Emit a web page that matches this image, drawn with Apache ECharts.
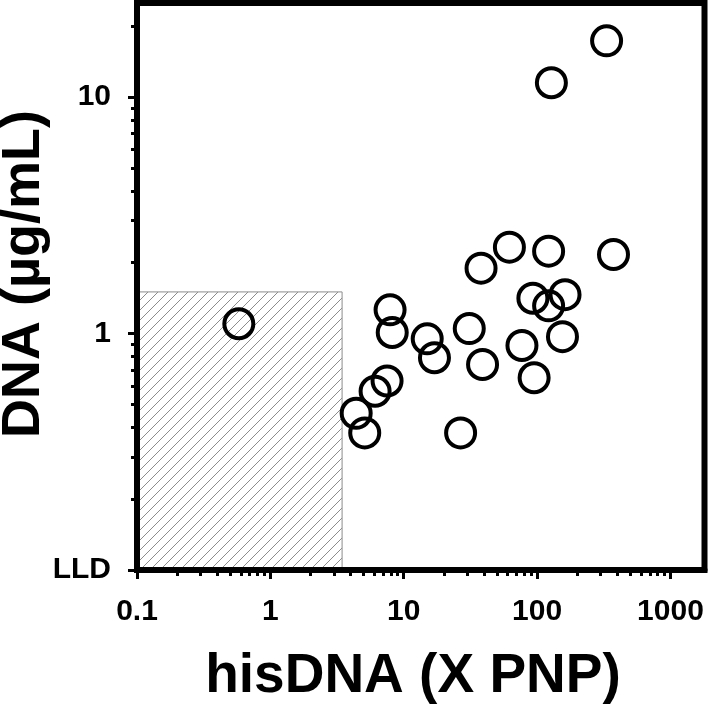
<!DOCTYPE html>
<html>
<head>
<meta charset="utf-8">
<script src="https://cdn.jsdelivr.net/npm/echarts@6/dist/echarts.min.js"></script>
<style>
  html, body { margin: 0; padding: 0; background: #fff; }
  #chart { width: 709px; height: 710px; }
</style>
</head>
<body>
<div id="chart"></div>
<script>
// values
var hisDNA = [0.58, 332, 128, 62, 122, 374, 38, 93, 162, 122, 7.9, 8.2, 15, 31, 155, 77, 17, 39, 95, 7.5, 6.1, 4.4, 5.1, 26.7];
var dnaConc = [1.1, 17.3, 11.5, 2.32, 2.23, 2.16, 1.89, 1.41, 1.46, 1.31, 1.26, 1.01, 0.95, 1.05, 0.97, 0.89, 0.79, 0.74, 0.65, 0.63, 0.57, 0.46, 0.38, 0.38];

// shaded zone (below detection)
var zoneX = [0.1, 3.45];
var zoneY = [0.1, 1.5];

// axis ticks and labels
var xRange = [0.1, 1800];
var yRange = [0.1, 25];
var xTickVals = [0.1, 1, 10, 100, 1000];
var xTickLabels = ['0.1', '1', '10', '100', '1000'];
var yTickVals = [0.1, 1, 10];
var yTickLabels = ['LLD', '1', '10'];
var xMinorVals = [0.2, 0.3, 0.4, 0.5, 0.6, 0.7, 0.8, 0.9,
                  2, 3, 4, 5, 6, 7, 8, 9,
                  20, 30, 40, 50, 60, 70, 80, 90,
                  200, 300, 400, 500, 600, 700, 800, 900];
var yMinorVals = [0.2, 0.3, 0.4, 0.5, 0.6, 0.7, 0.8, 0.9,
                  2, 3, 4, 5, 6, 7, 8, 9, 20];

var pts = [];
for (var i = 0; i < hisDNA.length; i++) pts.push([hisDNA[i], dnaConc[i]]);

function pickLabel(vals, labels) {
  return function (v) {
    var lv = Math.log10(v);
    for (var k = 0; k < vals.length; k++) {
      if (Math.abs(Math.log10(vals[k]) - lv) < 1e-6) return labels[k];
    }
    return '';
  };
}

// hatch pattern for the shaded box
var hatch = document.createElement('canvas');
hatch.width = 10; hatch.height = 10;
var hc = hatch.getContext('2d');
hc.strokeStyle = '#8c8c8c';
hc.lineWidth = 1;
hc.beginPath();
hc.moveTo(0, 10); hc.lineTo(10, 0);
hc.moveTo(-2, 2); hc.lineTo(2, -2);
hc.moveTo(8, 12); hc.lineTo(12, 8);
hc.stroke();

var fontFam = '"Liberation Sans", Arial, sans-serif';
var labelStyle = { color: '#000', fontFamily: fontFam, fontWeight: 'bold', fontSize: 30 };

var chart = echarts.init(document.getElementById('chart'));
chart.setOption({
  animation: false,
  grid: { left: 137, top: 3, right: 4.5, bottom: 140, show: true, borderColor: '#000', borderWidth: 6, backgroundColor: 'transparent' },
  xAxis: [{
    type: 'log', logBase: 10, min: xRange[0], max: xRange[1], z: 5,
    axisLine: { show: true, lineStyle: { color: '#000', width: 6 } },
    axisTick: { show: true, length: 9, customValues: xTickVals, lineStyle: { color: '#000', width: 3 } },
    axisLabel: Object.assign({ margin: 27, customValues: xTickVals, formatter: pickLabel(xTickVals, xTickLabels) }, labelStyle),
    splitLine: { show: false }
  }, {
    type: 'log', logBase: 10, min: xRange[0], max: xRange[1], position: 'bottom', z: 5,
    axisLine: { show: false },
    axisTick: { show: true, length: 6, customValues: xMinorVals, lineStyle: { color: '#000', width: 3 } },
    axisLabel: { show: false },
    splitLine: { show: false }
  }],
  yAxis: [{
    type: 'log', logBase: 10, min: yRange[0], max: yRange[1], z: 5,
    axisLine: { show: true, lineStyle: { color: '#000', width: 6 } },
    axisTick: { show: true, length: 9, customValues: yTickVals, lineStyle: { color: '#000', width: 3 } },
    axisLabel: Object.assign({ margin: 26, customValues: yTickVals, formatter: pickLabel(yTickVals, yTickLabels) }, labelStyle),
    splitLine: { show: false }
  }, {
    type: 'log', logBase: 10, min: yRange[0], max: yRange[1], position: 'left', z: 5,
    axisLine: { show: false },
    axisTick: { show: true, length: 6, customValues: yMinorVals, lineStyle: { color: '#000', width: 3 } },
    axisLabel: { show: false },
    splitLine: { show: false }
  }],
  graphic: [{
    type: 'text', position: [413, 677],
    style: { text: 'hisDNA (X PNP)', fill: '#000', font: 'bold 55px ' + fontFam, align: 'center', verticalAlign: 'middle' }
  }, {
    type: 'text', rotation: Math.PI / 2, position: [24, 274],
    style: { text: 'DNA (µg/mL)', fill: '#000', font: 'bold 54px ' + fontFam, align: 'center', verticalAlign: 'middle' }
  }],
  series: [{
    type: 'custom',
    z: 1,
    data: [[zoneX[0], zoneX[1], zoneY[0], zoneY[1]]],
    renderItem: function (params, api) {
      var p0 = api.coord([api.value(0), api.value(2)]);
      var p1 = api.coord([api.value(1), api.value(3)]);
      return {
        type: 'rect',
        shape: { x: p0[0], y: p1[1], width: p1[0] - p0[0], height: p0[1] - p1[1] },
        style: { fill: { image: hatch, repeat: 'repeat' }, stroke: '#8c8c8c', lineWidth: 1 }
      };
    }
  }, {
    type: 'scatter',
    z: 3,
    symbol: 'circle',
    symbolSize: 29,
    data: pts,
    itemStyle: { color: 'rgba(0,0,0,0)', borderColor: '#000', borderWidth: 4, opacity: 1 }
  }]
});
</script>
</body>
</html>
